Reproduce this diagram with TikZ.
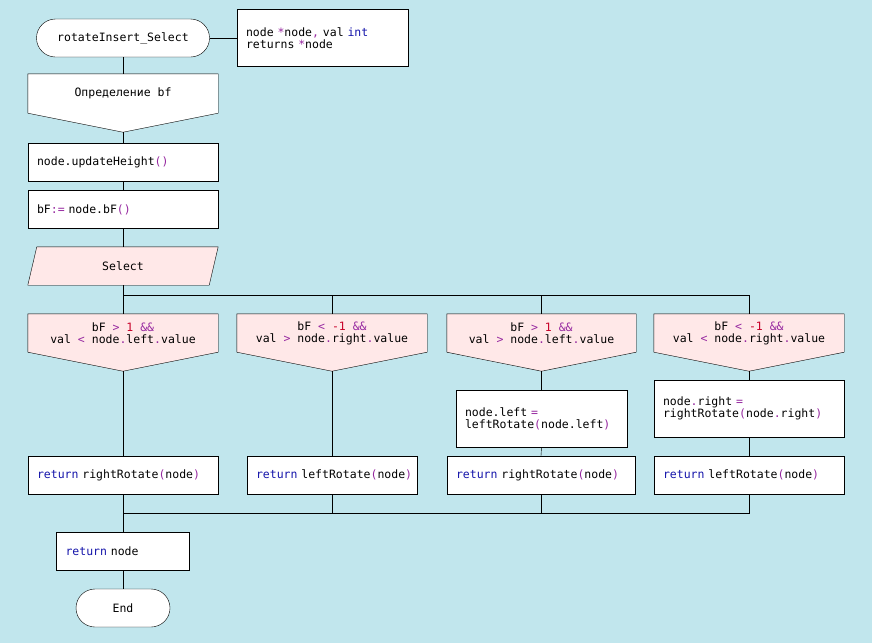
\documentclass[tikz,border=0pt]{standalone}
\usepackage{fontspec}
\setmonofont{DejaVuSansMono.ttf}
\usetikzlibrary{positioning}
\definecolor{skyback}{RGB}{193,230,237}
\definecolor{casepink}{RGB}{255,232,232}
\definecolor{kwblue}{RGB}{20,20,170}
\definecolor{oppurple}{RGB}{150,40,160}
\definecolor{numred}{RGB}{200,0,40}
\newcommand{\kwd}[1]{\textcolor{kwblue}{#1}}
\newcommand{\opc}[1]{\textcolor{oppurple}{#1}}
\newcommand{\numc}[1]{\textcolor{numred}{#1}}
\pgfdeclarelayer{backdrop}
\pgfsetlayers{backdrop,main}
% outline with a pointed bottom, drawn under the text
\newcommand{\veebox}[2]{%
  \begin{pgfonlayer}{backdrop}
    \draw[fill=#2] (#1.north west) -- (#1.north east) -- (#1.south east)
      -- ([yshift=-19pt]#1.south) -- (#1.south west) -- cycle;
  \end{pgfonlayer}}

\begin{document}
\begin{tikzpicture}[
  x=1pt, y=-1pt,
  line width=1pt,
  font=\ttfamily\fontsize{11.5}{12}\selectfont,
  term/.style={draw, fill=white, rounded corners=19pt, minimum height=38pt, inner sep=0pt},
  stmt/.style={draw, fill=white, minimum height=38pt, inner xsep=9pt, inner ysep=0pt, text width=#1, align=left},
  cond/.style={minimum width=190pt, minimum height=38pt, inner sep=0pt, align=center}
]
  \begin{pgfonlayer}{backdrop}
    \fill[skyback] (0,0) rectangle (872,643);
  \end{pgfonlayer}

  % header
  \node[term, minimum width=173pt] (start) at (123,38) {rotateInsert\_Select};
  \node[stmt=153pt, inner xsep=9pt, minimum height=57pt] (sig) at (322.5,38) {node \opc{*}node\opc{,} val \kwd{int}\\returns \opc{*}node};
  \draw (start.east) -- (sig.west);

  \node[cond, minimum height=39pt] (def) at (123,93.5) {Определение bf};
  \veebox{def}{white}
  \coordinate (defTip) at ([yshift=-19pt]def.south);
  \draw (start.south) -- (def.north);

  \node[stmt=172pt] (upd) at (123,162) {node.updateHeight\opc{()}};
  \node[stmt=172pt] (bfc) at (123,209.5) {bF\opc{:=} node.bF\opc{()}};
  \draw (defTip) -- (upd.north);
  \draw (upd.south) -- (bfc.north);

  % select
  \node[cond] (sel) at (123,266) {Select};
  \begin{pgfonlayer}{backdrop}
    \draw[fill=casepink] ([xshift=9pt]sel.north west) -- (sel.north east)
      -- ([xshift=-9pt]sel.south east) -- (sel.south west) -- cycle;
  \end{pgfonlayer}
  \draw (bfc.south) -- (sel.north);

  % cases
  \node[cond] (c1) at (123,333) {bF \opc{>} \numc{1} \opc{\&\&}\\val \opc{<} node\opc{.}left\opc{.}value};
  \node[cond] (c2) at (332,333) {bF \opc{<} \numc{-1} \opc{\&\&}\\val \opc{>} node\opc{.}right\opc{.}value};
  \node[cond, minimum width=189pt] (c3) at (541.5,333) {bF \opc{>} \numc{1} \opc{\&\&}\\val \opc{>} node\opc{.}left\opc{.}value};
  \node[cond] (c4) at (749,333) {bF \opc{<} \numc{-1} \opc{\&\&}\\val \opc{<} node\opc{.}right\opc{.}value};
  \foreach \c in {c1,c2,c3,c4} {
    \veebox{\c}{casepink}
    \coordinate (\c tip) at ([yshift=-19pt]\c.south);
  }
  \coordinate (fork) at (123,295);
  \draw (sel.south) -- (c1.north);
  \draw (fork) -| (c2.north);
  \draw (fork) -| (c3.north);
  \draw (fork) -| (c4.north);

  % branch bodies
  \node[stmt=153pt, minimum height=57pt] (x3) at (541.5,418.5) {node.left \opc{=}\\leftRotate\opc{(}node.left\opc{)}};
  \node[stmt=172pt, minimum height=57pt] (x4) at (749,408.5) {node\opc{.}right \opc{=}\\rightRotate\opc{(}node\opc{.}right\opc{)}};

  \node[stmt=172pt] (r1) at (123,475) {\kwd{return} rightRotate\opc{(}node\opc{)}};
  \node[stmt=152pt] (r2) at (332,475) {\mbox{\kwd{return} leftRotate\opc{(}node\opc{)}}};
  \node[stmt=170pt] (r3) at (541,475) {\kwd{return} rightRotate\opc{(}node\opc{)}};
  \node[stmt=172pt] (r4) at (749,475) {\kwd{return} leftRotate\opc{(}node\opc{)}};

  \draw (c1tip) -- (r1.north);
  \draw (c2tip) -- (r2.north);
  \draw (c3tip) -- (x3.north);
  \draw (x3.south) -- (r3.north);
  \draw (c4tip) -- (x4.north);
  \draw (x4.south) -- (r4.north);

  % join and end
  \coordinate (join) at (123,513);
  \draw (r2.south) |- (join);
  \draw (r3.south) |- (join);
  \draw (r4.south) |- (join);

  \node[stmt=115pt] (ret) at (123,551) {\kwd{return} node};
  \node[term, minimum width=94pt] (stop) at (123,608) {End};
  \draw (r1.south) -- (ret.north);
  \draw (ret.south) -- (stop.north);
\end{tikzpicture}
\end{document}
